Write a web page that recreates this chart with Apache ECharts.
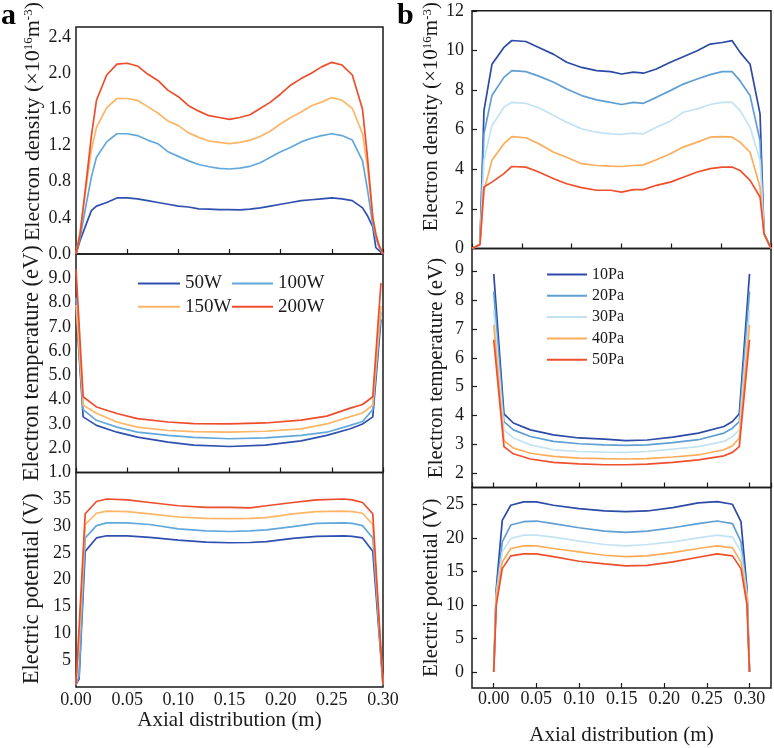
<!DOCTYPE html>
<html>
<head>
<meta charset="utf-8">
<title>Axial profiles</title>
<script src="https://cdn.jsdelivr.net/npm/echarts@6/dist/echarts.min.js"></script>
<style>
  html, body { margin: 0; padding: 0; background: #fff; }
  #main { width: 774px; height: 748px; }
</style>
</head>
<body>
<div id="main"></div>
<script>
// ---------- panel a : discharge power ----------
var powerNames = ['50W', '100W', '150W', '200W'];
var powerColors = ['#3050b0', '#62a8dc', '#fdb566', '#ee4d2c'];

var xDensA = [0, 0.004, 0.01, 0.015, 0.02, 0.03, 0.04, 0.05, 0.06, 0.07, 0.08, 0.09, 0.10, 0.11, 0.12, 0.13, 0.14, 0.15,
  0.16, 0.17, 0.18, 0.19, 0.20, 0.21, 0.22, 0.23, 0.24, 0.25, 0.26, 0.27, 0.28, 0.285, 0.29, 0.293, 0.296, 0.30];
var densA50 = [0, 0.15, 0.33, 0.48, 0.53, 0.57, 0.62, 0.62, 0.61, 0.59, 0.57, 0.55, 0.53, 0.52, 0.50, 0.497, 0.49, 0.49,
  0.487, 0.497, 0.51, 0.53, 0.55, 0.57, 0.59, 0.60, 0.61, 0.62, 0.61, 0.59, 0.51, 0.42, 0.30, 0.07, 0.04, 0];
var densA100 = [0, 0.18, 0.55, 0.85, 1.07, 1.24, 1.33, 1.33, 1.31, 1.26, 1.22, 1.13, 1.08, 1.03, 0.99, 0.965, 0.948, 0.94,
  0.95, 0.97, 1.01, 1.07, 1.13, 1.18, 1.24, 1.28, 1.31, 1.33, 1.31, 1.26, 1.03, 0.70, 0.32, 0.18, 0.08, 0];
var densA150 = [0, 0.25, 0.75, 1.15, 1.40, 1.62, 1.72, 1.72, 1.70, 1.63, 1.56, 1.47, 1.42, 1.34, 1.29, 1.25, 1.235, 1.22,
  1.235, 1.26, 1.30, 1.36, 1.44, 1.51, 1.57, 1.64, 1.68, 1.73, 1.70, 1.61, 1.33, 0.95, 0.42, 0.22, 0.10, 0];
var densA200 = [0, 0.22, 0.80, 1.30, 1.70, 1.98, 2.10, 2.11, 2.08, 1.99, 1.92, 1.81, 1.74, 1.64, 1.58, 1.53, 1.51, 1.49,
  1.51, 1.54, 1.61, 1.68, 1.77, 1.87, 1.94, 2.00, 2.07, 2.12, 2.09, 1.98, 1.60, 1.05, 0.40, 0.22, 0.10, 0];

var xTempA = [0, 0.007, 0.02, 0.04, 0.06, 0.09, 0.115, 0.15, 0.185, 0.22, 0.245, 0.268, 0.28, 0.29, 0.298];
var tempA50 = [7.8, 3.29, 2.94, 2.66, 2.46, 2.25, 2.13, 2.07, 2.13, 2.30, 2.53, 2.80, 3.00, 3.29, 7.3];
var tempA100 = [8.2, 3.59, 3.15, 2.87, 2.66, 2.53, 2.45, 2.39, 2.43, 2.53, 2.66, 2.94, 3.10, 3.59, 7.6];
var tempA150 = [7.9, 3.77, 3.44, 3.08, 2.87, 2.73, 2.68, 2.66, 2.70, 2.80, 3.00, 3.30, 3.45, 3.77, 7.86];
var tempA200 = [9.39, 4.12, 3.70, 3.43, 3.22, 3.08, 3.01, 3.00, 3.04, 3.16, 3.32, 3.65, 3.80, 4.12, 8.80];

var xPotA = [0, 0.003, 0.009, 0.02, 0.03, 0.05, 0.072, 0.10, 0.127, 0.15, 0.17, 0.186, 0.212, 0.235, 0.262, 0.27, 0.28, 0.29, 0.30];
var potA50 = [0.5, 1.5, 25.3, 27.8, 28.2, 28.2, 27.9, 27.4, 27.0, 26.9, 26.95, 27.1, 27.7, 28.1, 28.2, 28.1, 27.8, 25.3, 0.5];
var potA100 = [0.5, 2, 27.8, 30.1, 30.6, 30.6, 30.3, 29.5, 29.1, 29.0, 29.1, 29.3, 29.9, 30.5, 30.6, 30.5, 30.1, 27.8, 0.5];
var potA150 = [0.5, 8, 30.3, 32.4, 32.8, 32.7, 32.3, 31.7, 31.45, 31.4, 31.45, 31.6, 32.3, 32.7, 32.8, 32.7, 32.4, 30.3, 0.5];
var potA200 = [0.5, 11, 32.3, 34.6, 35.06, 34.9, 34.4, 33.8, 33.5, 33.5, 33.4, 33.8, 34.4, 34.9, 35.06, 34.9, 34.4, 32.3, 0.5];

// ---------- panel b : gas pressure ----------
var pressNames = ['10Pa', '20Pa', '30Pa', '40Pa', '50Pa'];
var pressColors = ['#2c4aa6', '#5f9fd4', '#c3e3f3', '#fdac5a', '#ee4f2d'];

var xDensB = [0, 0.008, 0.012, 0.02, 0.032, 0.04, 0.054, 0.067, 0.082, 0.095, 0.11, 0.125, 0.139, 0.15, 0.162, 0.172,
  0.185, 0.199, 0.212, 0.226, 0.239, 0.251, 0.261, 0.269, 0.279, 0.289, 0.293, 0.30];
var densB10 = [0, 0.2, 6.96, 9.3, 10.15, 10.5, 10.45, 10.15, 9.8, 9.4, 9.14, 8.98, 8.93, 8.81, 8.9, 8.85,
  9.06, 9.4, 9.68, 9.98, 10.32, 10.4, 10.49, 9.9, 9.3, 6.8, 0.75, 0];
var densB20 = [0, 0.2, 5.79, 7.72, 8.64, 8.98, 8.93, 8.7, 8.39, 8.05, 7.72, 7.5, 7.38, 7.27, 7.38, 7.33,
  7.63, 7.97, 8.3, 8.56, 8.78, 8.93, 8.93, 8.46, 7.72, 5.45, 0.75, 0];
var densB30 = [0, 0.2, 4.45, 6.2, 7.13, 7.38, 7.33, 7.1, 6.71, 6.37, 6.04, 5.87, 5.79, 5.76, 5.82, 5.79,
  6.12, 6.43, 6.88, 7.05, 7.27, 7.38, 7.38, 6.96, 6.12, 4.45, 0.75, 0];
var densB40 = [0, 0.2, 2.9, 4.45, 5.29, 5.65, 5.59, 5.29, 4.86, 4.61, 4.28, 4.19, 4.16, 4.14, 4.19, 4.22,
  4.48, 4.78, 5.12, 5.37, 5.62, 5.65, 5.62, 5.37, 4.86, 3.1, 0.75, 0];
var densB50 = [0, 0.2, 3.1, 3.35, 3.78, 4.14, 4.11, 3.86, 3.52, 3.27, 3.07, 2.94, 2.94, 2.85, 2.97, 2.97,
  3.19, 3.35, 3.6, 3.86, 4.03, 4.11, 4.11, 3.94, 3.44, 2.6, 0.75, 0];

var xTempB = [0, 0.012, 0.023, 0.043, 0.07, 0.10, 0.13, 0.155, 0.18, 0.21, 0.24, 0.27, 0.28, 0.288, 0.30];
var tempB10 = [8.92, 4.06, 3.74, 3.5, 3.33, 3.22, 3.18, 3.13, 3.15, 3.25, 3.39, 3.62, 3.79, 4.06, 8.92];
var tempB20 = [8.31, 3.79, 3.5, 3.27, 3.1, 3.02, 2.98, 2.96, 2.98, 3.06, 3.16, 3.39, 3.56, 3.79, 8.31];
var tempB30 = [7.67, 3.5, 3.22, 2.98, 2.81, 2.75, 2.73, 2.72, 2.75, 2.83, 2.92, 3.1, 3.27, 3.5, 7.67];
var tempB40 = [7.15, 3.13, 2.87, 2.69, 2.58, 2.52, 2.5, 2.49, 2.5, 2.56, 2.63, 2.81, 2.95, 3.22, 7.15];
var tempB50 = [6.63, 2.92, 2.67, 2.49, 2.37, 2.32, 2.29, 2.29, 2.31, 2.37, 2.46, 2.6, 2.72, 2.92, 6.63];

var xPotB = [0, 0.003, 0.01, 0.02, 0.035, 0.05, 0.07, 0.10, 0.13, 0.155, 0.18, 0.21, 0.24, 0.262, 0.28, 0.29, 0.297, 0.30];
var potB10 = [0, 12.5, 22.6, 24.85, 25.35, 25.35, 24.85, 24.35, 24.0, 23.9, 24.0, 24.5, 25.2, 25.4, 25.0, 22.4, 12.5, 0];
var potB20 = [0, 12, 19.4, 21.9, 22.4, 22.5, 22.1, 21.5, 21.0, 20.8, 21.0, 21.5, 22.1, 22.5, 22.1, 19.4, 12, 0];
var potB30 = [0, 11.5, 17.9, 19.9, 20.4, 20.4, 20.1, 19.5, 19.0, 18.8, 19.0, 19.4, 20.0, 20.4, 20.1, 17.9, 11.5, 0];
var potB40 = [0, 11, 16.4, 18.4, 18.8, 18.8, 18.4, 17.9, 17.4, 17.2, 17.3, 17.8, 18.4, 18.8, 18.5, 16.4, 11, 0];
var potB50 = [0, 10, 15.4, 17.3, 17.6, 17.6, 17.2, 16.5, 16.1, 15.8, 15.9, 16.4, 17.1, 17.6, 17.3, 15.4, 10, 0];

var serif = 'Liberation Serif';
var ink = '#1a1a1a';

function pairs(xs, ys) {
  return xs.map(function (x, i) { return [x, ys[i]]; });
}

function lineSeries(name, color, grid, xs, ys) {
  return {
    name: name,
    type: 'line',
    xAxisIndex: grid,
    yAxisIndex: grid,
    data: pairs(xs, ys),
    symbol: 'none',
    color: color,
    itemStyle: { color: color },
    lineStyle: { color: color, width: 1.7 },
    clip: true
  };
}

var tickIn = { show: true, inside: true, length: 5, lineStyle: { color: ink, width: 1.2 } };
var labelFont = { fontFamily: serif, fontSize: 18, color: ink };
var densName = '{n|Electron density (×10}{s|16}{n|m}{s|-3}{n|)}';

function nameStyle(size, pad) {
  return {
    fontFamily: serif, fontSize: size, color: ink, padding: pad || 0,
    rich: {
      n: { fontFamily: serif, fontSize: size, color: ink },
      s: { fontFamily: serif, fontSize: Math.round(size * 0.6), color: ink, verticalAlign: 'top' }
    }
  };
}

// thin bar used as the legend line sample
function barIcon(w) {
  return 'path://M0,0H' + w + 'V2H0Z';
}

var myChart = echarts.init(document.getElementById('main'));

var grids = [
  { left: 76, top: 8, width: 307, height: 246 },
  { left: 76, top: 254, width: 307, height: 218.5 },
  { left: 76, top: 472.5, width: 307, height: 214.5 },
  { left: 472, top: 10, width: 299, height: 238.5 },
  { left: 472, top: 248.5, width: 299, height: 239 },
  { left: 472, top: 487.5, width: 299, height: 200.5 }
].map(function (g) {
  g.show = true;
  g.borderColor = ink;
  g.borderWidth = 1.5;
  g.containLabel = false;
  return g;
});

var xAxes = [
  { gridIndex: 0, min: 0, max: 0.3, interval: 0.05, axisTick: tickIn, axisLabel: { show: false } },
  { gridIndex: 1, min: 0, max: 0.3, interval: 0.05, axisTick: tickIn, axisLabel: { show: false } },
  { gridIndex: 2, min: 0, max: 0.3, interval: 0.05, axisTick: { show: false },
    axisLabel: Object.assign({ margin: 4, formatter: function (v) { return v.toFixed(2); } }, labelFont),
    name: 'Axial distribution (m)', nameLocation: 'middle', nameGap: 17, nameTextStyle: { fontFamily: serif, fontSize: 21, color: ink } },
  { gridIndex: 3, min: 0, max: 0.3, interval: 0.05, axisTick: tickIn, axisLabel: { show: false } },
  { gridIndex: 4, min: -0.0255, max: 0.3252, splitNumber: 7, axisTick: tickIn, axisLabel: { show: false } },
  { gridIndex: 5, min: -0.0255, max: 0.3252, splitNumber: 7, axisTick: tickIn,
    axisLabel: Object.assign({ margin: 2, showMinLabel: false, showMaxLabel: false, formatter: function (v) { return v.toFixed(2); } }, labelFont),
    name: 'Axial distribution (m)', nameLocation: 'middle', nameGap: 37, nameTextStyle: { fontFamily: serif, fontSize: 21, color: ink } }
].map(function (a) {
  a.type = 'value';
  a.position = 'bottom';
  a.axisLine = { show: false, onZero: false };
  a.splitLine = { show: false };
  return a;
});

var yAxes = [
  { gridIndex: 0, min: 0, max: 2.51, interval: 0.4, axisTick: { show: false },
    axisLabel: Object.assign({ margin: 5, showMaxLabel: false, formatter: function (v) { return v.toFixed(1); } }, labelFont),
    name: densName, nameGap: 32, nameTextStyle: nameStyle(22, [0, 0, 0, 38]) },
  { gridIndex: 1, min: 1, max: 10, interval: 1, axisTick: { show: false },
    axisLabel: Object.assign({ margin: 5, showMaxLabel: false, formatter: function (v) { return v.toFixed(1); } }, labelFont),
    name: 'Electron temperature (eV)', nameGap: 32, nameTextStyle: nameStyle(22.5) },
  { gridIndex: 2, min: 0, max: 40, interval: 5, axisTick: { show: false },
    axisLabel: Object.assign({ margin: 5, showMinLabel: false, showMaxLabel: false }, labelFont),
    name: 'Electric potential (V)', nameGap: 32, nameTextStyle: nameStyle(22.5, [0, 18, 0, 0]) },
  { gridIndex: 3, min: 0, max: 12, interval: 2, axisTick: tickIn,
    axisLabel: Object.assign({ margin: 8 }, labelFont),
    name: densName, nameGap: 25, nameTextStyle: nameStyle(21, [0, 0, 0, 26]) },
  { gridIndex: 4, min: 1.5, max: 9.8, splitNumber: 8, axisTick: tickIn,
    axisLabel: Object.assign({ margin: 8, showMinLabel: false, showMaxLabel: false }, labelFont),
    name: 'Electron temperature (eV)', nameGap: 25, nameTextStyle: nameStyle(21) },
  { gridIndex: 5, min: -2.4, max: 27.5, splitNumber: 6, axisTick: tickIn,
    axisLabel: Object.assign({ margin: 8, showMinLabel: false, showMaxLabel: false }, labelFont),
    name: 'Electric potential (V)', nameGap: 25, nameTextStyle: nameStyle(21) }
].map(function (a) {
  a.type = 'value';
  a.position = 'left';
  a.nameLocation = 'middle';
  a.axisLine = { show: false, onZero: false };
  a.splitLine = { show: false };
  return a;
});

var series = [];
var densA = [densA50, densA100, densA150, densA200];
var tempA = [tempA50, tempA100, tempA150, tempA200];
var potA = [potA50, potA100, potA150, potA200];
powerNames.forEach(function (n, i) {
  series.push(lineSeries(n, powerColors[i], 0, xDensA, densA[i]));
  series.push(lineSeries(n, powerColors[i], 1, xTempA, tempA[i]));
  series.push(lineSeries(n, powerColors[i], 2, xPotA, potA[i]));
});
var densB = [densB10, densB20, densB30, densB40, densB50];
var tempB = [tempB10, tempB20, tempB30, tempB40, tempB50];
var potB = [potB10, potB20, potB30, potB40, potB50];
pressNames.forEach(function (n, i) {
  series.push(lineSeries(n, pressColors[i], 3, xDensB, densB[i]));
  series.push(lineSeries(n, pressColors[i], 4, xTempB, tempB[i]));
  series.push(lineSeries(n, pressColors[i], 5, xPotB, potB[i]));
});

var option = {
  animation: false,
  backgroundColor: '#fff',
  title: [
    { text: 'a', left: 1, top: 1, padding: 0, textStyle: { fontFamily: serif, fontWeight: 'bold', fontSize: 30, color: '#000' } },
    { text: 'b', left: 397, top: 1, padding: 0, textStyle: { fontFamily: serif, fontWeight: 'bold', fontSize: 30, color: '#000' } }
  ],
  grid: grids,
  xAxis: xAxes,
  yAxis: yAxes,
  legend: [
    { orient: 'vertical', selectedMode: false, data: ['50W', '150W'], left: 133, top: 269,
      icon: barIcon(42), itemWidth: 42, itemHeight: 2, itemGap: 4.3,
      textStyle: { fontFamily: serif, fontSize: 19, color: ink } },
    { orient: 'vertical', selectedMode: false, data: ['100W', '200W'], left: 227, top: 269,
      icon: barIcon(41), itemWidth: 41, itemHeight: 2, itemGap: 4.3,
      textStyle: { fontFamily: serif, fontSize: 19, color: ink } },
    { orient: 'vertical', selectedMode: false, data: pressNames, left: 542, top: 261.5,
      icon: barIcon(40), itemWidth: 40, itemHeight: 2, itemGap: 5.3,
      textStyle: { fontFamily: serif, fontSize: 16, color: ink } }
  ],
  series: series
};

if (option && typeof option === 'object') {
  myChart.setOption(option, true);
}
</script>
</body>
</html>
